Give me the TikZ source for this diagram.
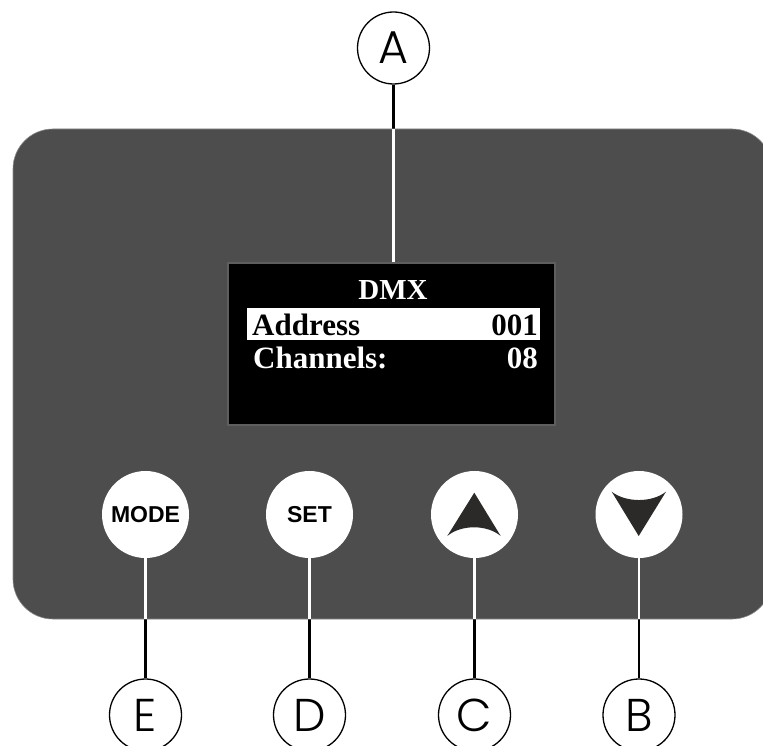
\documentclass[tikz,border=0pt]{standalone}
\usepackage{fontspec}
\usetikzlibrary{backgrounds}
\newfontfamily\dispfont{Liberation Serif}
\newfontfamily\btnfont{Liberation Sans}
\IfFontExistsTF{Poppins Light}{\newfontfamily\labfont{Poppins Light}}{\newfontfamily\labfont{Poppins}}
\definecolor{panelgray}{HTML}{4D4D4D}
\definecolor{panelline}{HTML}{8A8A8A}
\definecolor{arrowdark}{HTML}{2B2A29}
\definecolor{screenedge}{HTML}{5E5E5E}
\begin{document}
\begin{tikzpicture}[x=1pt,y=-1pt,
  panel/.style={draw=panelline, line width=0.6pt, fill=panelgray, rounded corners=40pt,
    minimum width=759pt, minimum height=490pt, inner sep=0pt},
  screen/.style={fill=black, draw=screenedge, line width=1.5pt,
    minimum width=327pt, minimum height=162pt, inner sep=0pt},
  button/.style={circle, fill=white, minimum size=87pt, inner sep=0pt,
    font=\btnfont\bfseries\fontsize{23}{23}\selectfont},
  callout/.style={circle, draw=black, line width=1.3pt, fill=white, minimum size=72pt,
    inner sep=0pt, font=\labfont\fontsize{46}{46}\selectfont},
  bline/.style={draw=black, line width=2.8pt},
  wline/.style={draw=white, line width=2.4pt},
  dtext/.style={inner sep=0pt, font=\dispfont\bfseries\fontsize{31}{31}\selectfont},
  dtitle/.style={inner sep=0pt, font=\dispfont\bfseries\fontsize{29}{29}\selectfont}]
\useasboundingbox (0,0) rectangle (763,746);
\clip (0,0) rectangle (763,746);

\node[panel] (panel) at (392.5,374) {};
\node[screen] (disp) at (391.5,344) {};
\node[callout] (A) at (393.5,48) {A};

\node[button] (btnE) at (145.5,514.5) {MODE};
\node[button] (btnD) at (309.5,514.5) {SET};
\node[button] (btnC) at (474.5,514.5) {};
\node[button] (btnB) at (639,514.5) {};

\node[callout] (labE) at (145.5,715) {E};
\node[callout] (labD) at (309.5,715) {D};
\node[callout] (labC) at (474.5,715) {C};
\node[callout] (labB) at (639,715) {B};

% arrows on buttons
\fill[arrowdark] (474.3,492.7) -- (447.3,536) .. controls (461,524.4) and (487,524.4) .. (500.7,536) -- cycle;
\fill[arrowdark] (611.7,491.7) .. controls (626,502.8) and (652,502.8) .. (666,491.7) -- (638.7,536) -- cycle;

% display contents
\fill[white] (247,308) rectangle (540,340);
\node[dtitle, text=white, anchor=base] (dmx) at (393,299.5) {DMX};
\node[dtext, text=black, anchor=base west] (addr) at (252,335) {Address};
\node[dtext, text=black, anchor=base east] (addrv) at (538,335) {001};
\node[dtext, text=white, anchor=base west] (chan) at (253,368.5) {Channels:};
\node[dtext, text=white, anchor=base east] (chanv) at (538,368.5) {08};

% connectors
\begin{scope}[on background layer]
\fill[white] (0,0) rectangle (763,746);
\draw[bline] (A) -- (A |- disp.north);
\draw[bline] (labE) -- (btnE);
\draw[bline] (labD) -- (btnD);
\draw[bline] (labC) -- (btnC);
\draw[bline] (labB) -- (btnB);
\end{scope}
\draw[wline] (A |- panel.north) -- (A |- disp.north);
\draw[wline] (btnE) -- (btnE |- panel.south);
\draw[wline] (btnD) -- (btnD |- panel.south);
\draw[wline] (btnC) -- (btnC |- panel.south);
\draw[wline] (btnB) -- (btnB |- panel.south);
\end{tikzpicture}
\end{document}
